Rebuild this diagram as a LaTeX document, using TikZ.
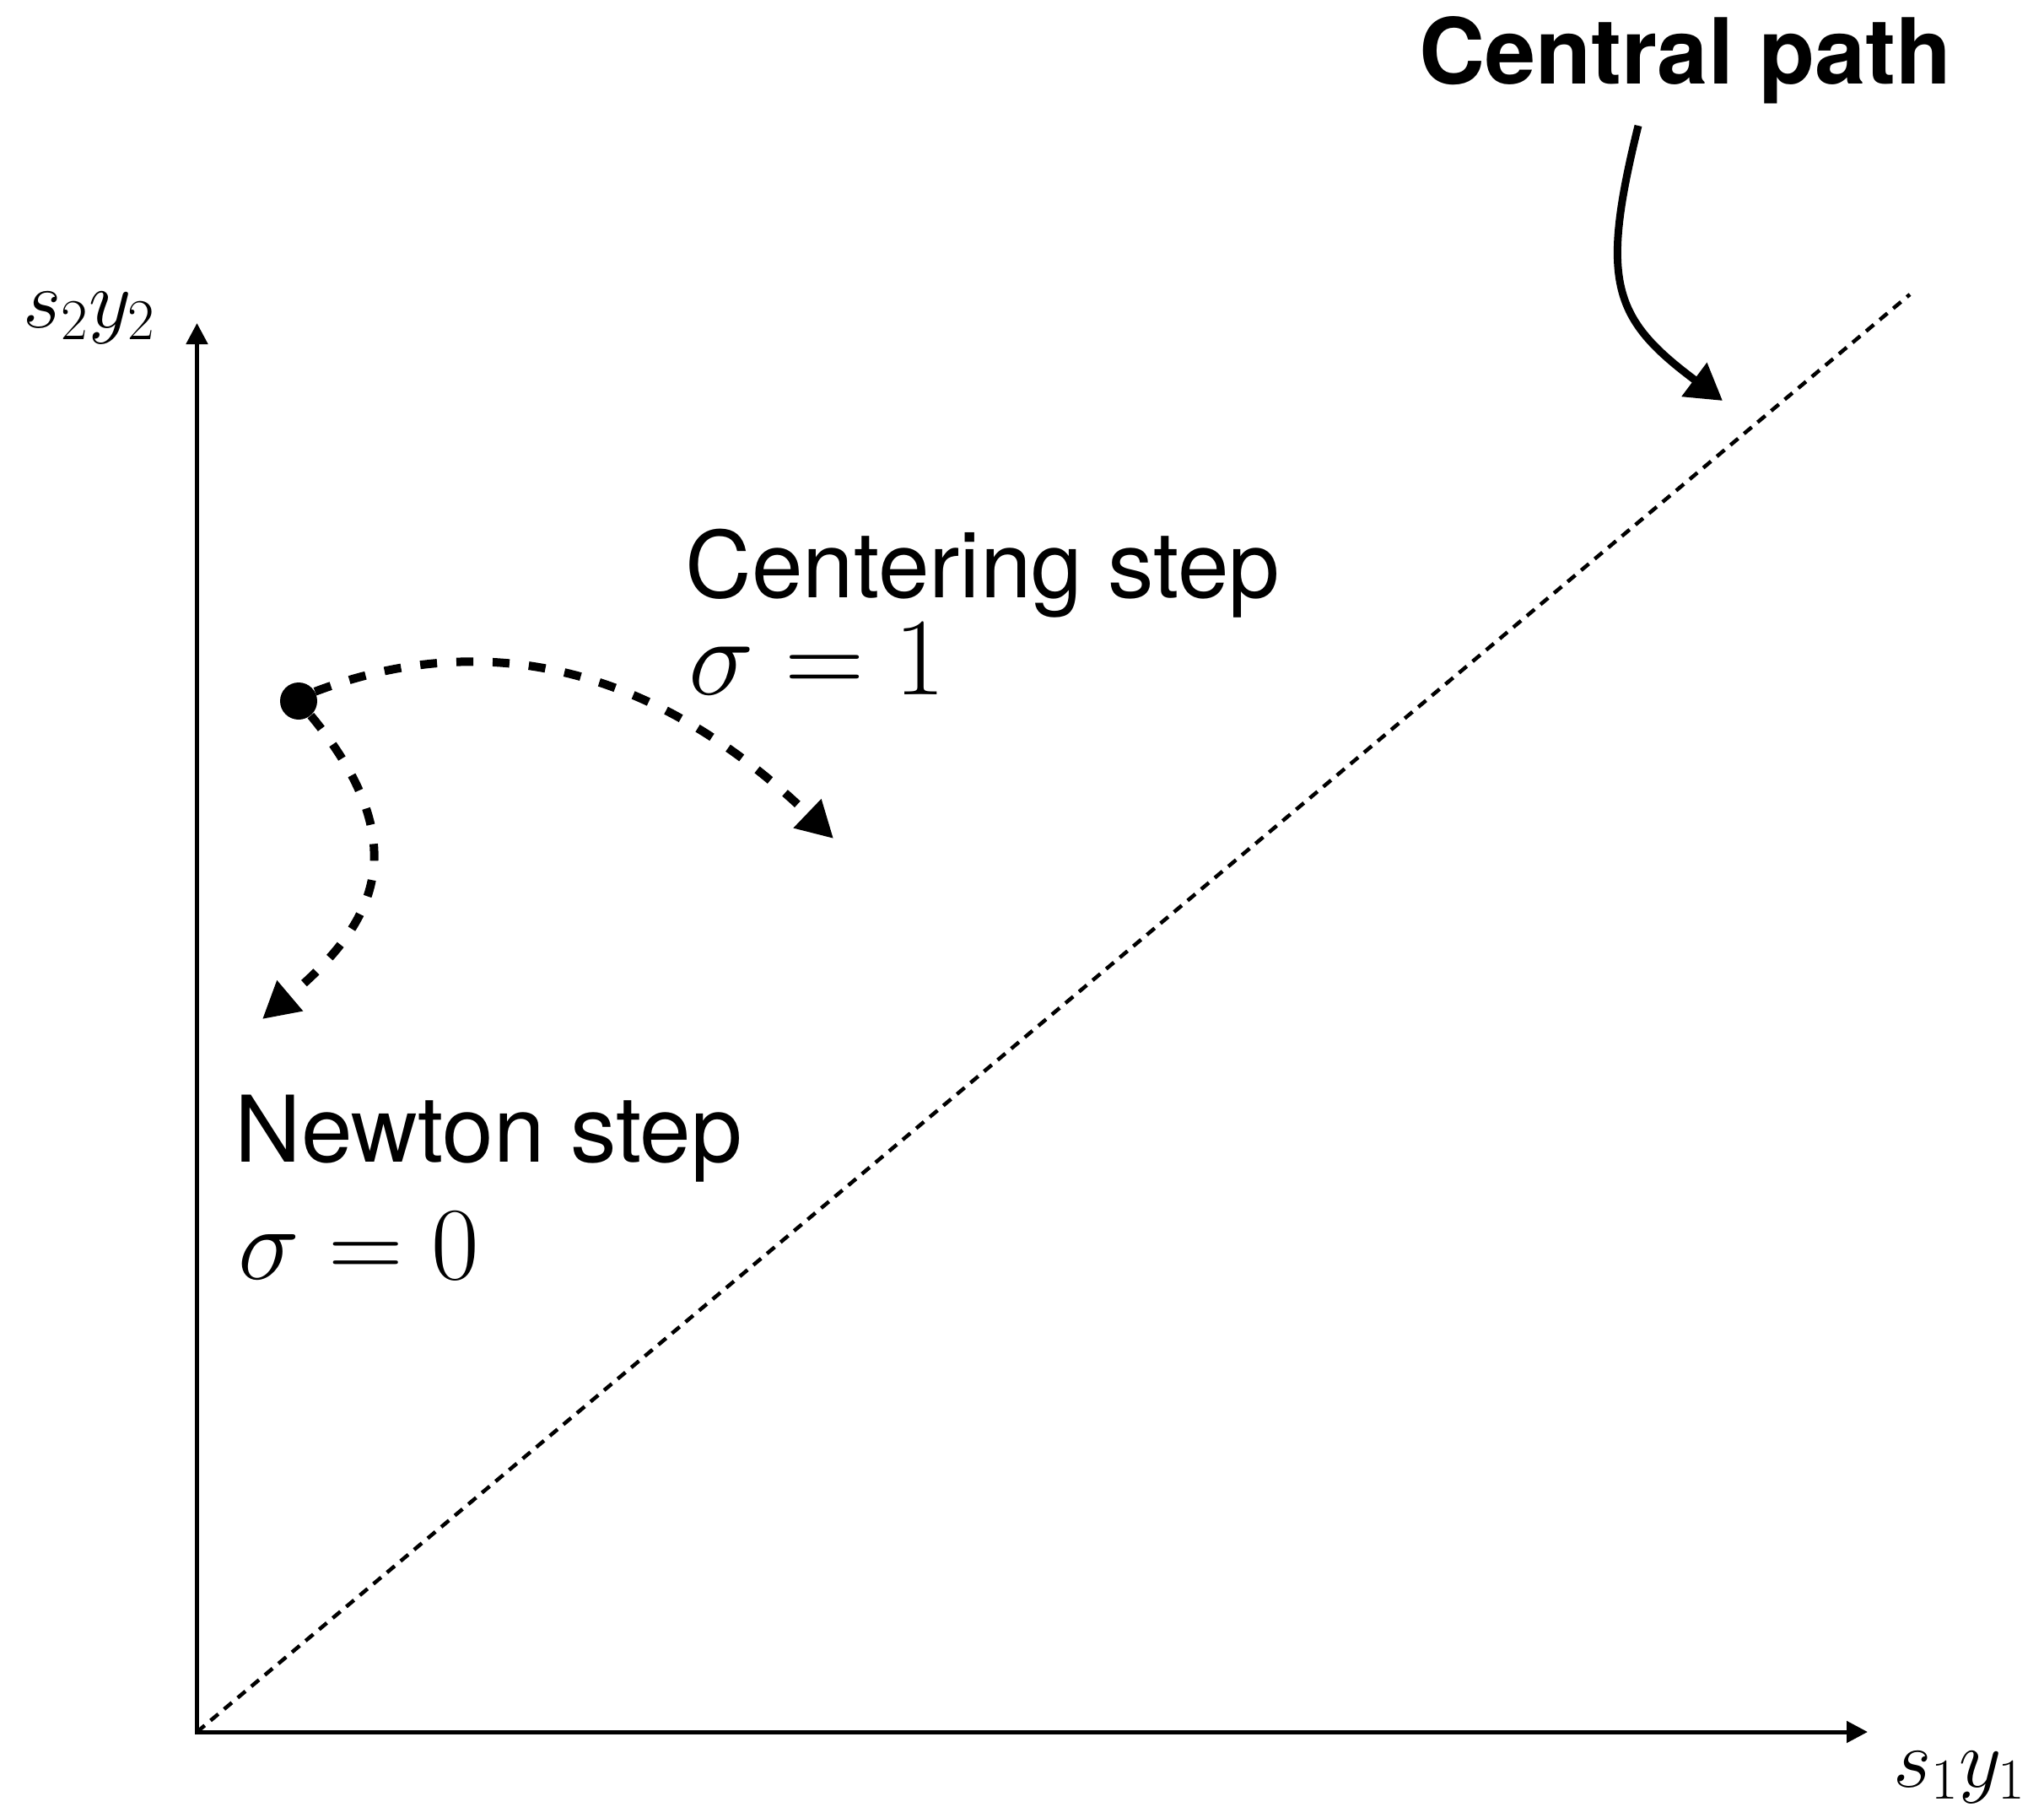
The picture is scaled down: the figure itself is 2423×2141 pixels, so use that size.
\RequirePackage{fix-cm}
\documentclass[tikz,border=0pt]{standalone}
\usepackage{fontspec}
\newfontfamily\heros{TeX Gyre Heros}
\usetikzlibrary{arrows.meta}
\begin{document}
\begin{tikzpicture}[x=0.5pt,y=-0.5pt,
  axis/.style={line width=2.5pt, {Triangle[length=12.5pt,width=12.5pt]}-{Triangle[length=12.5pt,width=12.5pt]}},
  steparrow/.style={line width=5pt, dash pattern=on 10pt off 11.5pt, -{Triangle[length=21.5pt,width=22.5pt]}},
  cparrow/.style={line width=4.5pt, -{Triangle[length=21pt,width=24pt]}},
  cpath/.style={line width=2.25pt, dash pattern=on 6pt off 4.5pt},
  lbl/.style={inner sep=0pt, anchor=base west},
  sanslbl/.style={lbl, font={\heros\fontsize{54.5pt}{60pt}\selectfont}},
  boldlbl/.style={lbl, font={\heros\bfseries\fontsize{54pt}{60pt}\selectfont}},
  dotnode/.style={circle, fill=black, inner sep=0pt, minimum size=22pt}
]
\useasboundingbox (0,0) rectangle (2423,2141);

% axes
\coordinate (O) at (233.5,2053);
\coordinate (ytop) at (233.5,383);
\coordinate (xend) at (2214,2053);
\draw[axis] (ytop) -- (O) -- (xend);

% axis labels
\node[lbl, font={\fontsize{49pt}{54pt}\selectfont}] (ylab) at (27,388) {$s_2y_2$};
\node[lbl, font={\fontsize{49pt}{54pt}\selectfont}] (xlab) at (2244,2118) {$s_1y_1$};

% central path (dotted diagonal)
\coordinate (cpend) at (2264,349);
\draw[cpath] (O) -- (cpend);

% central path label and arrow
\node[boldlbl] (cp) at (1682,100) {Central path};
\coordinate (cpstart) at (1942,149);
\coordinate (cptip) at (2042,475);
\draw[cparrow] (cpstart) .. controls (1896,335) and (1912,378) .. (cptip);

% current point
\node[dotnode] (pt) at (354,831) {};

% centering step
\node[sanslbl] (cs) at (812,708) {Centering step};
\node[lbl, font={\fontsize{65.5pt}{72pt}\selectfont}] (sig1) at (816,823) {$\sigma = 1$};
\coordinate (ctip) at (988,994);
\draw[steparrow] (pt.30) .. controls (590,738) and (788,802) .. (ctip);

% newton step
\node[sanslbl] (ns) at (278,1377) {Newton step};
\node[lbl, font={\fontsize{61.5pt}{68pt}\selectfont}] (sig0) at (282,1516) {$\sigma = 0$};
\coordinate (ntip) at (311,1208);
\draw[steparrow] (pt.-50) .. controls (502,1010) and (435,1103) .. (ntip);
\end{tikzpicture}
\end{document}
